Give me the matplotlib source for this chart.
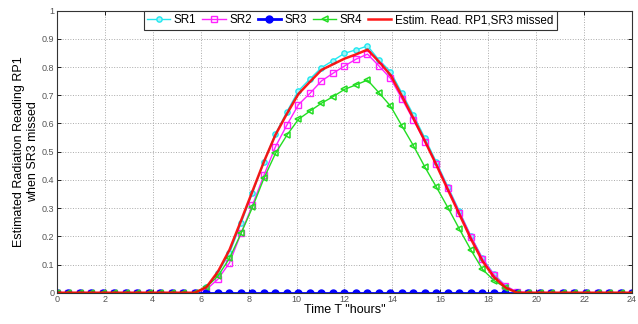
import numpy as np
import matplotlib
matplotlib.use("Agg")
import matplotlib.pyplot as plt

plt.rcParams['font.family'] = ['Liberation Sans', 'DejaVu Sans']

# time axis, 51 samples over the day
hours = np.linspace(0, 24, 51)

z12 = [0.0] * 13
z10 = [0.0] * 10

sr1 = z12 + [0.02, 0.071, 0.14, 0.246, 0.355, 0.465, 0.563, 0.642, 0.716, 0.758,
             0.798, 0.823, 0.849, 0.861, 0.875, 0.825, 0.784, 0.707, 0.63, 0.547,
             0.462, 0.375, 0.288, 0.20, 0.122, 0.065, 0.025, 0.0] + z10
sr2 = z12 + [0.012, 0.048, 0.106, 0.21, 0.311, 0.417, 0.518, 0.595, 0.667, 0.707,
             0.751, 0.778, 0.804, 0.828, 0.846, 0.804, 0.760, 0.687, 0.612, 0.535,
             0.456, 0.370, 0.284, 0.199, 0.12, 0.063, 0.024, 0.003] + z10
sr3 = [0.0] * 51
sr4 = z12 + [0.02, 0.059, 0.122, 0.21, 0.303, 0.406, 0.494, 0.559, 0.615, 0.644,
             0.672, 0.695, 0.721, 0.737, 0.754, 0.709, 0.662, 0.591, 0.521, 0.445,
             0.374, 0.301, 0.225, 0.151, 0.083, 0.043, 0.018, 0.0] + z10
est = z12 + [0.02, 0.075, 0.152, 0.255, 0.36, 0.465, 0.56, 0.635, 0.705, 0.748,
             0.79, 0.81, 0.83, 0.845, 0.862, 0.819, 0.772, 0.697, 0.618, 0.537,
             0.452, 0.364, 0.277, 0.19, 0.112, 0.055, 0.018, 0.0] + z10

fig = plt.figure(figsize=(6.38, 3.24), dpi=100)
ax = fig.add_axes([0.0893, 0.0966, 0.9013, 0.8704])

ax.plot(hours, sr1, 'o-', color='#22e8f0', lw=1.0, ms=3.8, mfc='#9ff4f8', mec='#22e8f0', label='SR1')
ax.plot(hours, sr2, 's-', color='#ff22ff', lw=1.0, ms=3.8, mfc='none', label='SR2')
ax.plot(hours, sr3, 'o-', color='#0000ff', lw=2.0, ms=5, mfc='#0000ff', label='SR3')
ax.plot(hours, sr4, '<-', color='#22dd22', lw=1.0, ms=4, mfc='none', mew=1.1, label='SR4')
ax.plot(hours, est, '-', color='#ff0000', lw=1.8, alpha=0.9, label='Estim. Read. RP1,SR3 missed')

ax.set_xlim(0, 24)
ax.set_ylim(0, 1)
ax.set_xticks(np.arange(0, 25, 2))
ax.set_yticks(np.arange(0, 1.01, 0.1))
ax.set_yticklabels(['0', '0.1', '0.2', '0.3', '0.4', '0.5', '0.6', '0.7', '0.8', '0.9', '1'])
ax.tick_params(direction='in', top=True, right=True, labelsize=6.5, labelcolor='#555555',
               length=3, width=0.6, pad=2)
ax.grid(True, linestyle=':', color='#aaaaaa', lw=0.7)
for s in ax.spines.values():
    s.set_linewidth(0.8)
    s.set_color('#333333')

ax.set_xlabel('Time T "hours"', fontsize=9, labelpad=0)
ax.set_ylabel('Estimated Radiation Reading RP1\nwhen SR3 missed', fontsize=9, labelpad=2)

leg = ax.legend(loc='upper center', bbox_to_anchor=(0.51, 1.0), ncol=5, fontsize=8.4,
                frameon=True, fancybox=False, edgecolor='#333333', framealpha=1,
                handlelength=2.0, handletextpad=0.3, columnspacing=0.5,
                borderpad=0.3, borderaxespad=0)
leg.get_frame().set_linewidth(0.8)

fig.savefig('out.png', dpi=100)
